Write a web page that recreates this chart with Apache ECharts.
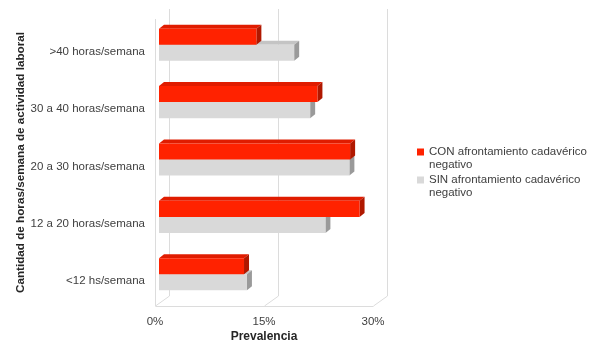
<!DOCTYPE html>
<html>
<head>
<meta charset="utf-8">
<script src="https://cdn.jsdelivr.net/npm/echarts@6/dist/echarts.min.js"></script>
<style>
  html, body { margin: 0; padding: 0; background: #fff; }
  #chart { width: 594px; height: 340px; }
</style>
</head>
<body>
<div id="chart"></div>
<script>
// Categories (bottom to top) and prevalence values in percent
const categories = ['<12 hs/semana', '12 a 20 horas/semana', '20 a 30 horas/semana', '30 a 40 horas/semana', '>40 horas/semana'];
const conValues = [11.7, 27.6, 26.3, 21.8, 13.4];
const sinValues = [12.1, 22.9, 26.2, 20.8, 18.6];
const xTicks = [0, 15, 30];
const seriesNames = ['CON afrontamiento cadavérico\nnegativo', 'SIN afrontamiento cadavérico\nnegativo'];

const FONT = 'Liberation Sans, Arial, sans-serif';

// oblique projection offsets
const WALL = [14, -10];      // back wall relative to the front plane
const BAR_POS = [4, -3];     // bar front face relative to the front plane
const BAR_DEPTH = [5, -4];   // bar depth
const BAR_FRAC = 0.28;       // bar thickness as a fraction of the category band

function barRenderer(colors, upper) {
  return function (params, api) {
    const v = api.value(0);
    const c = api.value(1);
    const p0 = api.coord([0, c]);
    const p1 = api.coord([v, c]);
    const band = api.size([0, 1])[1];
    const t = band * BAR_FRAC;
    const x0 = p0[0] + BAR_POS[0];
    const x1 = p1[0] + BAR_POS[0];
    const cy = p0[1] + BAR_POS[1];
    const yTop = upper ? cy - t : cy;
    const yBot = upper ? cy : cy + t;
    const dx = BAR_DEPTH[0], dy = BAR_DEPTH[1];
    return {
      type: 'group',
      children: [
        { type: 'polygon', shape: { points: [[x0, yTop], [x1, yTop], [x1 + dx, yTop + dy], [x0 + dx, yTop + dy]] },
          style: { fill: colors.top } },
        { type: 'polygon', shape: { points: [[x1, yTop], [x1 + dx, yTop + dy], [x1 + dx, yBot + dy], [x1, yBot]] },
          style: { fill: colors.side } },
        { type: 'rect', shape: { x: x0, y: yTop, width: x1 - x0, height: yBot - yTop },
          style: { fill: colors.front } }
      ]
    };
  };
}

function frameRenderer(params, api) {
  const cs = params.coordSys;
  const top = cs.y, bottom = cs.y + cs.height;
  const lineStyle = { stroke: '#dcdcdc', lineWidth: 1 };
  const children = [];
  const xs = xTicks.map(v => Math.round(api.coord([v, 0])[0]) + 0.5);
  xs.forEach(x => {
    // back wall gridline
    children.push({ type: 'line', shape: { x1: x + WALL[0], y1: top + WALL[1], x2: x + WALL[0], y2: bottom + WALL[1] }, style: lineStyle });
    // floor diagonal
    children.push({ type: 'line', shape: { x1: x, y1: bottom, x2: x + WALL[0], y2: bottom + WALL[1] }, style: lineStyle });
  });
  // floor front edge
  children.push({ type: 'line', shape: { x1: xs[0], y1: bottom + 0.5, x2: xs[xs.length - 1], y2: bottom + 0.5 }, style: lineStyle });
  // left wall front edge
  children.push({ type: 'line', shape: { x1: xs[0], y1: top, x2: xs[0], y2: bottom }, style: lineStyle });
  return { type: 'group', children: children, silent: true };
}

const chart = echarts.init(document.getElementById('chart'), null, { renderer: 'canvas' });

// legend entries: a leading empty line keeps the marker level with the first text line
const legendBase = {
  orient: 'vertical',
  left: 417,
  padding: 0,
  itemWidth: 7,
  itemHeight: 7,
  icon: 'rect',
  formatter: name => '\n' + name,
  textStyle: { fontFamily: FONT, fontSize: 11.5, color: '#404040', lineHeight: 13 }
};

chart.setOption({
  animation: false,
  textStyle: { fontFamily: FONT },
  grid: { left: 155, top: 19, width: 218, height: 287, containLabel: false, outerBoundsMode: 'none' },
  legend: [
    Object.assign({}, legendBase, { top: 132.5, data: [seriesNames[0]] }),
    Object.assign({}, legendBase, { top: 160.5, data: [seriesNames[1]] })
  ],
  xAxis: {
    type: 'value',
    min: 0,
    max: 30,
    interval: 15,
    axisLine: { show: false },
    axisTick: { show: false },
    splitLine: { show: false },
    axisLabel: { formatter: '{value}%', fontSize: 11.5, color: '#404040', margin: 10 },
    name: 'Prevalencia',
    nameLocation: 'middle',
    nameGap: 25,
    nameMoveOverlap: false,
    nameTextStyle: { fontSize: 12, fontWeight: 'bold', color: '#262626' }
  },
  yAxis: {
    type: 'category',
    data: categories,
    axisLine: { show: false },
    axisTick: { show: false },
    splitLine: { show: false },
    axisLabel: { fontSize: 11.5, color: '#404040', margin: 10, verticalAlign: 'top', lineHeight: 8 },
    name: 'Cantidad de horas/semana de actividad laboral',
    nameLocation: 'middle',
    nameRotate: 90,
    nameGap: 128,
    nameMoveOverlap: false,
    nameTextStyle: { fontSize: 11.7, fontWeight: 'bold', color: '#262626' }
  },
  series: [
    {
      type: 'custom',
      name: 'frame',
      renderItem: frameRenderer,
      data: [[0, 0]],
      silent: true,
      z: 1
    },
    {
      type: 'custom',
      name: seriesNames[1],
      color: '#d9d9d9',
      renderItem: barRenderer({ front: '#d9d9d9', top: '#c4c4c4', side: '#9a9a9a' }, false),
      data: sinValues.map((v, i) => [v, i]),
      encode: { x: 0, y: 1 },
      z: 2
    },
    {
      type: 'custom',
      name: seriesNames[0],
      color: '#ff2200',
      renderItem: barRenderer({ front: '#ff2200', top: '#e01c00', side: '#b01800' }, true),
      data: conValues.map((v, i) => [v, i]),
      encode: { x: 0, y: 1 },
      z: 3
    }
  ]
});
</script>
</body>
</html>
